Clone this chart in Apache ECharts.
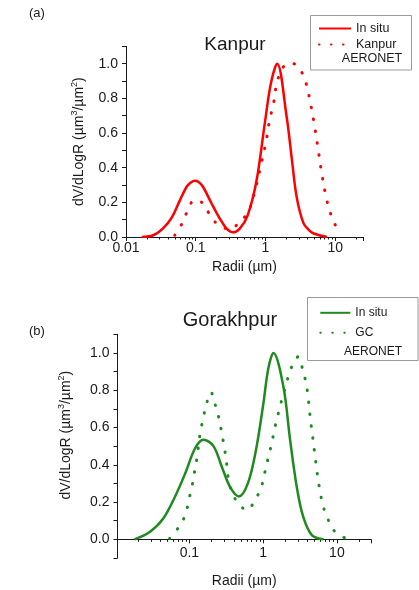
<!DOCTYPE html>
<html>
<head>
<meta charset="utf-8">
<script src="https://cdn.jsdelivr.net/npm/echarts@6/dist/echarts.min.js"></script>
<style>html,body{margin:0;padding:0;background:#fff}#c{width:419px;height:590px}</style>
</head>
<body>
<div id="c"></div>
<script>
// ---- Data ----
// Panel (a) Kanpur
const kanpurInsituR = [0.0168, 0.0245, 0.034, 0.045, 0.059, 0.074, 0.085, 0.097, 0.11, 0.127, 0.168, 0.22, 0.275, 0.343, 0.43, 0.55, 0.74, 0.98, 1.2, 1.47, 2.0, 2.37, 2.8, 3.5, 4.2, 4.9, 7.6];
const kanpurInsituV = [0, 0.01, 0.05, 0.11, 0.21, 0.29, 0.315, 0.325, 0.318, 0.29, 0.195, 0.108, 0.05, 0.027, 0.05, 0.12, 0.32, 0.66, 0.89, 1.0, 0.70, 0.46, 0.23, 0.08, 0.04, 0.02, 0];
const kanpurAeronetR = [0.05, 0.064, 0.076, 0.094, 0.11, 0.125, 0.159, 0.21, 0.31, 0.43, 0.575, 0.73, 0.875, 1.03, 1.15, 1.29, 1.44, 1.7, 2.1, 2.5, 3.2, 3.8, 4.47, 5.1, 5.76, 6.45, 7.4, 8.5, 10, 11.8];
const kanpurAeronetV = [0.01, 0.08, 0.15, 0.21, 0.21, 0.195, 0.13, 0.07, 0.046, 0.089, 0.15, 0.29, 0.43, 0.56, 0.68, 0.76, 0.88, 0.965, 1.0, 1.0, 0.96, 0.89, 0.76, 0.63, 0.49, 0.36, 0.23, 0.14, 0.07, 0.02];
// Panel (b) Gorakhpur
const gorakhInsituR = [0.018, 0.029, 0.044, 0.064, 0.088, 0.12, 0.155, 0.212, 0.275, 0.357, 0.47, 0.62, 0.8, 1.0, 1.18, 1.38, 1.88, 2.32, 2.86, 3.5, 4.57, 6.6];
const gorakhInsituV = [0, 0.04, 0.11, 0.23, 0.355, 0.49, 0.535, 0.50, 0.39, 0.28, 0.23, 0.30, 0.48, 0.72, 0.92, 1.0, 0.82, 0.534, 0.28, 0.12, 0.023, 0];
const gcAeronetR = [0.054, 0.073, 0.089, 0.098, 0.108, 0.116, 0.126, 0.14, 0.152, 0.169, 0.195, 0.225, 0.253, 0.275, 0.295, 0.315, 0.328, 0.357, 0.43, 0.6, 0.8, 0.96, 1.06, 1.18, 1.31, 1.42, 1.56, 1.74, 1.95, 2.2, 2.57, 3.0, 3.46, 3.83, 4.07, 4.25, 4.47, 4.72, 4.97, 5.24, 5.52, 5.93, 6.45, 7.46, 9.5, 14.1];
const gcAeronetV = [0.005, 0.07, 0.136, 0.21, 0.28, 0.35, 0.43, 0.57, 0.64, 0.72, 0.79, 0.72, 0.645, 0.57, 0.50, 0.435, 0.36, 0.28, 0.21, 0.157, 0.22, 0.29, 0.363, 0.444, 0.516, 0.588, 0.656, 0.73, 0.80, 0.874, 0.946, 0.98, 0.906, 0.835, 0.763, 0.69, 0.614, 0.543, 0.47, 0.40, 0.328, 0.256, 0.184, 0.113, 0.04, 0];

// Tick labels
const xTickLabelsTop = [0.01, 0.1, 1, 10];
const xTickLabelsBottom = [0.1, 1, 10];
const yTickLabels = [0, 0.2, 0.4, 0.6, 0.8, 1.0];

// ---- Styling ----
const RED = '#ff0000';
const GREEN = '#1f8a1f';
const INK = '#1a1a1a';
const BOX = '#9a9a9a';
const FONT = '"Liberation Sans", Arial, sans-serif';

function pairs(r, v) { return r.map(function (x, i) { return [x, v[i]]; }); }
function xFmt(list) {
  return function (val) {
    for (const t of list) { if (Math.abs(val - t) / t < 1e-6) return String(t); }
    return '';
  };
}
function yFmt(val) {
  for (const t of yTickLabels) { if (Math.abs(val - t) < 1e-6) return t.toFixed(1); }
  return '';
}
const legendNames = {
  'Kanpur in situ': 'In situ',
  'Kanpur AERONET': 'Kanpur',
  'Gorakhpur in situ': 'In situ',
  'GC AERONET': 'GC'
};
const yName = '{n|dV/dLogR (\u00b5m}{s|3}{n|/\u00b5m}{s|2}{n|)}';
function yNameStyle(shift) {
  return {
    color: INK,
    padding: [0, 0, 0, shift],
    rich: {
      n: { fontSize: 14, fontFamily: FONT, color: INK },
      s: { fontSize: 9, fontFamily: FONT, color: INK, padding: [0, 0, 9, 0] }
    }
  };
}
function xAxisCfg(grid, min, max, labels, margin, nameGap) {
  return {
    type: 'log', gridIndex: grid, min: min, max: max, logBase: 10,
    name: 'Radii (\u00b5m)', nameLocation: 'middle', nameGap: nameGap,
    nameTextStyle: { fontSize: 14, fontFamily: FONT, color: INK },
    axisLine: { lineStyle: { color: INK, width: 1 } },
    axisTick: { length: 4, lineStyle: { color: INK } },
    minorTick: { show: true, splitNumber: 9, length: 2.5, lineStyle: { color: INK } },
    axisLabel: { formatter: xFmt(labels), fontSize: 14, fontFamily: FONT, color: INK, margin: margin, showMinLabel: true, showMaxLabel: true },
    splitLine: { show: false }, minorSplitLine: { show: false }
  };
}
function yAxisCfg(grid, min, max, nameGap, shift) {
  return {
    type: 'value', gridIndex: grid, min: min, max: max, interval: 0.1,
    name: yName, nameLocation: 'middle', nameGap: nameGap, nameTextStyle: yNameStyle(shift),
    axisLine: { show: true, lineStyle: { color: INK, width: 1 } },
    axisTick: { show: true, length: 4, lineStyle: { color: INK } },
    axisLabel: { formatter: yFmt, fontSize: 14, fontFamily: FONT, color: INK, margin: 8 },
    splitLine: { show: false }
  };
}
function lineSeries(name, r, v, color, dotted, xi) {
  return {
    name: name, type: 'line', xAxisIndex: xi, yAxisIndex: xi,
    data: pairs(r, v), symbol: 'none', showSymbol: false, smooth: 0.35,
    lineStyle: dotted
      ? { color: color, width: 3, type: [0.5, 11.5], cap: 'round' }
      : { color: color, width: 2.5 },
    itemStyle: { color: color },
    z: dotted ? 3 : 4
  };
}

const chart = echarts.init(document.getElementById('c'), null, { renderer: 'canvas' });
chart.setOption({
  backgroundColor: '#fff',
  animation: false,
  title: [
    { text: '(a)', left: 29, top: 7, padding: 0, textStyle: { fontSize: 13, fontWeight: 'normal', fontFamily: FONT, color: INK } },
    { text: 'Kanpur', left: 235, top: 35, padding: 0, textAlign: 'center', textStyle: { fontSize: 19, fontWeight: 'normal', fontFamily: FONT, color: INK } },
    { text: '(b)', left: 29, top: 325, padding: 0, textStyle: { fontSize: 13, fontWeight: 'normal', fontFamily: FONT, color: INK } },
    { text: 'Gorakhpur', left: 230, top: 310, padding: 0, textAlign: 'center', textStyle: { fontSize: 20, fontWeight: 'normal', fontFamily: FONT, color: INK } }
  ],
  grid: [
    { left: 126, right: 56, top: 46.4, bottom: 353, outerBoundsMode: 'none' },
    { left: 117.5, right: 48, top: 334.3, bottom: 32, outerBoundsMode: 'none' }
  ],
  xAxis: [
    xAxisCfg(0, 0.01, 25, xTickLabelsTop, 4, 23),
    xAxisCfg(1, 0.0106, 29, xTickLabelsBottom, -12, 16)
  ],
  yAxis: [
    yAxisCfg(0, 0, 1.1, 38, 0),
    yAxisCfg(1, -0.1, 1.1, 42, 22)
  ],
  legend: [
    {
      orient: 'vertical', left: 310, top: 15, itemWidth: 32, itemHeight: 14, itemGap: 3,
      padding: [7, 12, 20, 8],
      itemStyle: { opacity: 0 },
      textStyle: { fontSize: 12.5, fontFamily: FONT, color: INK },
      data: ['Kanpur in situ', 'Kanpur AERONET'],
      formatter: function (n) { return legendNames[n]; }
    },
    {
      orient: 'vertical', left: 307.3, top: 297.3, itemWidth: 30, itemHeight: 14, itemGap: 8,
      padding: [9.5, 31, 22, 12],
      itemStyle: { opacity: 0 },
      textStyle: { fontSize: 12, fontFamily: FONT, color: INK },
      data: ['Gorakhpur in situ', 'GC AERONET'],
      formatter: function (n) { return legendNames[n]; }
    }
  ],
  graphic: [
    { type: 'rect', z: 1, silent: true, shape: { x: 310.5, y: 15.5, width: 101, height: 54.5 }, style: { fill: 'transparent', stroke: BOX, lineWidth: 1 } },
    { type: 'rect', z: 1, silent: true, shape: { x: 307.5, y: 297.5, width: 110.5, height: 63 }, style: { fill: 'transparent', stroke: BOX, lineWidth: 1 } },
    { type: 'text', x: 372, y: 59, z: 100, style: { text: 'AERONET', fontSize: 12.5, fontFamily: FONT, fill: INK, align: 'center', verticalAlign: 'middle' } },
    { type: 'text', x: 373, y: 351.7, z: 100, style: { text: 'AERONET', fontSize: 12, fontFamily: FONT, fill: INK, align: 'center', verticalAlign: 'middle' } }
  ],
  series: [
    lineSeries('Kanpur in situ', kanpurInsituR, kanpurInsituV, RED, false, 0),
    lineSeries('Kanpur AERONET', kanpurAeronetR, kanpurAeronetV, RED, true, 0),
    lineSeries('Gorakhpur in situ', gorakhInsituR, gorakhInsituV, GREEN, false, 1),
    lineSeries('GC AERONET', gcAeronetR, gcAeronetV, GREEN, true, 1)
  ]
});
</script>
</body>
</html>
